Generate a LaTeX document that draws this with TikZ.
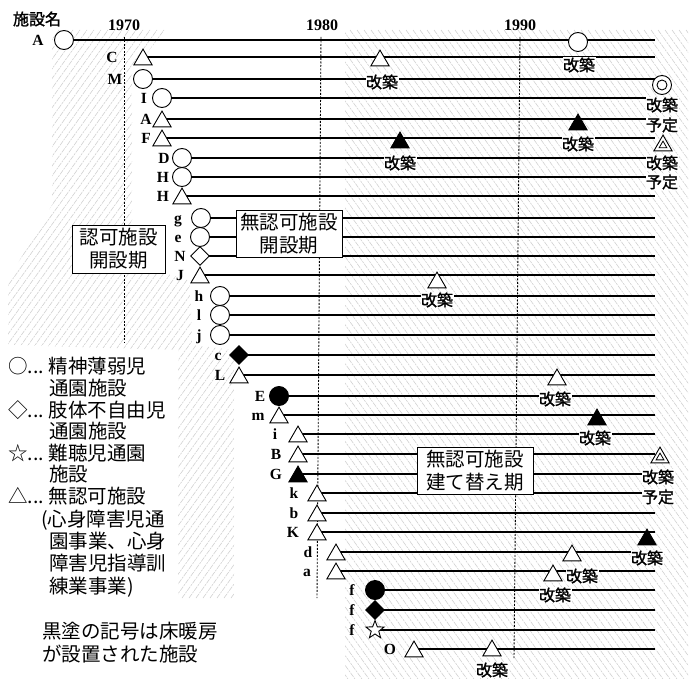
\documentclass[tikz,border=0pt]{standalone}
\usepackage{fontspec}
\setmainfont{Liberation Serif}
\newfontfamily\jp{Noto Sans CJK JP}
\newfontfamily\jpb[FakeBold=1.5]{Noto Sans CJK JP}
\usetikzlibrary{shapes.geometric}
\tikzset{
  rowline/.style={line width=1.1pt},
  circ/.style={circle, draw, line width=0.9pt, fill=white, minimum size=19pt, inner sep=0pt},
  fcirc/.style={circ, fill=black},
  tri/.style={regular polygon, regular polygon sides=3, draw, line width=0.9pt, fill=white, minimum size=21pt, inner sep=0pt, yshift=-2.6pt},
  ftri/.style={tri, fill=black},
  itri/.style={regular polygon, regular polygon sides=3, draw, line width=0.8pt, fill=white, minimum size=9pt, inner sep=0pt},
  dia/.style={diamond, aspect=1, draw, line width=0.9pt, fill=white, minimum size=19pt, inner sep=0pt},
  fdia/.style={dia, fill=black},
  staro/.style={star, star points=5, star point ratio=2.4, draw, line width=0.9pt, fill=white, minimum size=19pt, inner sep=0pt},
  lab/.style={font=\fontsize{15.5}{15.5}\selectfont\bfseries, inner sep=0pt, anchor=base},
  yr/.style={font=\fontsize{16}{16}\selectfont\bfseries, inner sep=0pt},
  kai/.style={font=\jpb\fontsize{16}{16}\selectfont, fill=white, inner sep=0.5pt},
  perbox/.style={draw, line width=0.9pt, fill=white, font=\jp\fontsize{19.5}{23}\selectfont, align=center, inner sep=0pt},
  leg/.style={font=\jp\fontsize{19.5}{19.5}\selectfont, anchor=base west, inner sep=0pt},
  yline/.style={dash pattern=on 2pt off 1.5pt, line width=0.9pt},
  hatch/.style={gray!38, line width=0.55pt, dash pattern=on 5pt off 1pt on 2pt off 1pt},
}
\begin{document}
\begin{tikzpicture}[x=1pt,y=-1pt]
\useasboundingbox (0,0) rectangle (690,679);
\fill[white] (0,0) rectangle (690,679);
% hatching
\begin{scope}
  \clip (345,30) rectangle (688,679);
  \foreach \a in {-140,-133,...,700} \draw[hatch] (\a,30) -- ++(467,649);
\end{scope}
\begin{scope}
  \clip (52,30) -- (165,30) -- (132,72) -- (132,265) -- (190,280) -- (192,345) -- (234,350) -- (234,598) -- (178,598) -- (178,350) -- (8,345) -- (8,280) -- (52,205) -- cycle;
  \foreach \b in {-420,-413,...,250} \draw[hatch] (\b,598) -- ++(409,-568);
\end{scope}
% year lines
\coordinate (t70) at (124,37); \coordinate (b70) at (124,343);
\coordinate (t80) at (321,37); \coordinate (b80) at (317,598);
\coordinate (t90) at (520,37); \coordinate (b90) at (514,658);
\draw[yline] (t70) -- (b70);
\draw[yline] (t80) -- (b80);
\draw[yline] (t90) -- (b90);
\node[yr] (y70) at (124,25) {1970};
\node[yr] (y80) at (322,25) {1980};
\node[yr] (y90) at (520,25) {1990};
% rows
\foreach \n/\l/\lx/\s/\sx/\sy in {
  r1/A/38/circ/64/40, r2/C/112/tri/143/57, r3/M/115/circ/143/79,
  r4/I/144/circ/162/98, r5/A/146/tri/162/119, r6/F/146/tri/162/138,
  r7/D/164/circ/182/158, r8/H/163/circ/182/177, r9/H/163/tri/182/196,
  r10/g/178/circ/201/218, r11/e/178/circ/200/237, r12/N/180/dia/200/256,
  r13/J/180/tri/200/275, r14/h/199/circ/220/296, r15/l/199/circ/220/315,
  r16/j/199/circ/220/335, r17/c/218/fdia/239/355, r18/L/220/tri/239/375,
  r19/E/260/fcirc/279/396, r20/m/258/tri/279/415, r21/i/275/tri/298/434,
  r22/B/276/tri/298/454, r23/G/276/ftri/298/474, r24/k/294/tri/317/493,
  r25/b/294/tri/317/513, r26/K/293/tri/317/532, r27/d/308/tri/336/552,
  r28/a/307/tri/336/571, r29/f/352/fcirc/375/590, r30/f/352/fdia/375/610,
  r31/f/352/staro/375/630, r32/O/390/tri/414/649} {
  \coordinate (c\n) at (\sx,\sy);
  \coordinate (e\n) at (655,\sy);
  \draw[rowline] (c\n) -- (e\n);
  \node[\s] (s\n) at (\sx,\sy) {};
  \node[lab] (l\n) at (\lx,\sy+5.5) {\l};
}
% period boxes
\node[perbox, minimum width=93pt, minimum height=48pt] (bx1) at (118.5,249) {認可施設\\開設期};
\node[perbox, minimum width=106pt, minimum height=47pt] (bx2) at (289,233.5) {無認可施設\\開設期};
\node[perbox, minimum width=116pt, minimum height=47pt] (bx3) at (475,470.5) {無認可施設\\建て替え期};
% alterations
\node[circ] (a1) at (578,42) {};
\node[kai] (k1) at (579,65) {改築};
\node[tri] (a2) at (380,58) {};
\node[kai] (k2) at (382,82) {改築};
\node[kai] (k3) at (662,105) {改築};
\node[kai] (k3b) at (662,125) {予定};
\node[circ] (a3) at (662,85) {};
\node[circ, minimum size=10pt] (a3i) at (a3.center) {};
\node[ftri] (a4) at (578,122) {};
\node[kai] (k4) at (578,144) {改築};
\node[ftri] (a5) at (400,140) {};
\node[kai] (k5) at (400,163) {改築};
\node[kai] (k6) at (662,163) {改築};
\node[kai] (k6b) at (662,182) {予定};
\node[tri] (a6) at (663,143) {};
\node[itri] (a6i) at (a6.center) {};
\node[tri] (a7) at (437,280) {};
\node[kai] (k7) at (437,300) {改築};
\node[tri] (a8) at (557,377) {};
\node[kai] (k8) at (555,399) {改築};
\node[ftri] (a9) at (597,417) {};
\node[kai] (k9) at (595,438) {改築};
\node[kai] (k10) at (658,477) {改築};
\node[kai] (k10b) at (658,497) {予定};
\node[tri] (a10) at (660,455) {};
\node[itri] (a10i) at (a10.center) {};
\node[ftri] (a11) at (647,537) {};
\node[kai] (k11) at (647,558) {改築};
\node[tri] (a12) at (572,553) {};
\node[kai] (k12) at (582,576) {改築};
\node[tri] (a13) at (553,573) {};
\node[kai] (k13) at (555,595) {改築};
\node[tri] (a14) at (492,648) {};
\node[kai] (k14) at (492,670) {改築};
% header
\node[font=\jpb\fontsize{16}{16}\selectfont, inner sep=0pt] (hd) at (37,19) {施設名};
% legend
\node[leg] (lg1) at (8,373) {○...\kern5pt 精神薄弱児};
\node[leg] (lg2) at (49,395) {通園施設};
\node[leg] (lg3) at (8,417) {◇...\kern5pt 肢体不自由児};
\node[leg] (lg4) at (49,438) {通園施設};
\node[leg] (lg5) at (8,460) {☆...\kern5pt 難聴児通園};
\node[leg] (lg6) at (49,481) {施設};
\node[leg] (lg7) at (8,503) {△...\kern5pt 無認可施設};
\node[leg] (lg8) at (41,526) {(心身障害児通};
\node[leg] (lg9) at (49,548) {園事業、心身};
\node[leg] (lg10) at (49,570) {障害児指導訓};
\node[leg] (lg11) at (49,593) {練業事業)};
\node[leg] (lg12) at (42,638) {黒塗の記号は床暖房};
\node[leg] (lg13) at (42,661) {が設置された施設};
\end{tikzpicture}
\end{document}
